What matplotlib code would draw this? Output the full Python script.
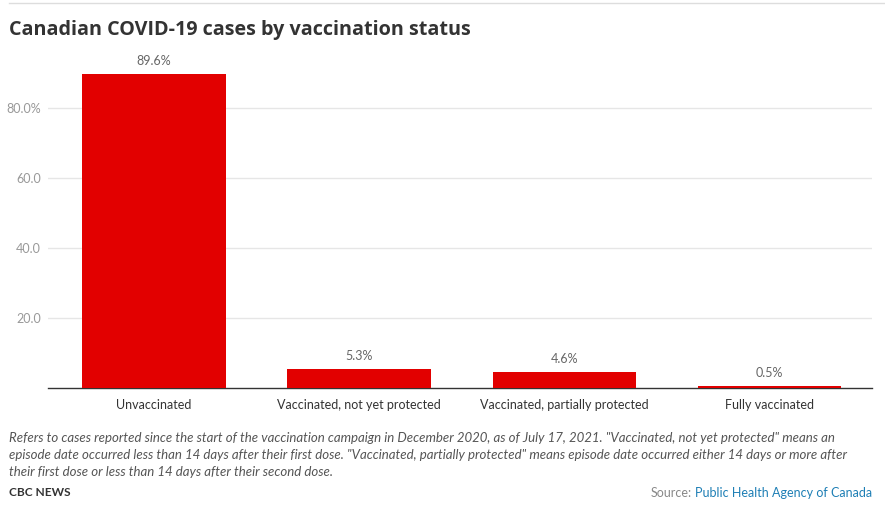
import matplotlib.pyplot as plt

categories = ["Unvaccinated", "Vaccinated, not yet protected",
              "Vaccinated, partially protected", "Fully vaccinated"]
shares = [89.6, 5.3, 4.6, 0.5]
yticks = [20, 40, 60, 80]
ytick_labels = ["20.0", "40.0", "60.0", "80.0%"]

title = "Canadian COVID-19 cases by vaccination status"
note = ("Refers to cases reported since the start of the vaccination campaign in December 2020, as of July 17, 2021. "
        "\"Vaccinated, not yet protected\" means an\nepisode date occurred less than 14 days after their first dose. "
        "\"Vaccinated, partially protected\" means episode date occurred either 14 days or more after\n"
        "their first dose or less than 14 days after their second dose.")

plt.rcParams['font.family'] = ['Lato', 'DejaVu Sans']

W, H = 885, 518
fig = plt.figure(figsize=(W / 100, H / 100), dpi=100)

# axes placed in pixel terms of the reference
left, right, top, bottom = 48, 872, 52, 388
ax = fig.add_axes([left / W, 1 - bottom / H, (right - left) / W, (bottom - top) / H])

x = range(len(categories))
ax.bar(x, shares, width=0.70, color='#e20000', zorder=3)
for xi, v in zip(x, shares):
    ax.text(xi, v + 2.0, f"{v}%", ha='center', va='bottom', fontsize=9, color='#666666')

ax.set_xlim(-0.517, 3.5)
ax.set_ylim(0, 96)
ax.set_yticks(yticks)
ax.set_yticklabels(ytick_labels)
ax.set_xticks(list(x))
ax.set_xticklabels(categories)
ax.tick_params(axis='y', length=0, pad=5, labelsize=9, labelcolor='#999999')
ax.tick_params(axis='x', length=0, pad=8, labelsize=9, labelcolor='#333333')
ax.grid(axis='y', color='#e6e6e6', linewidth=1, zorder=0)
for s in ['top', 'right', 'left']:
    ax.spines[s].set_visible(False)
ax.spines['bottom'].set_color('#333333')
ax.spines['bottom'].set_linewidth(1)

# header and footer
fig.add_artist(plt.Line2D([9 / W, 1], [1 - 3 / H, 1 - 3 / H], color='#dddddd', linewidth=1))
fig.text(9 / W, 1 - 30 / H, title, fontsize=14.2, fontweight='bold', color='#333333',
         va='center', ha='left', family=['Open Sans', 'DejaVu Sans'])
fig.text(9 / W, 1 - 432 / H, note, fontsize=9.5, style='italic', color='#555555',
         va='top', ha='left', linespacing=1.48)
fig.text(9 / W, 1 - 493 / H, "CBC NEWS", fontsize=8.6, fontweight='bold', color='#333333',
         va='center', ha='left')
src = fig.text(872 / W, 1 - 493 / H, "Public Health Agency of Canada", fontsize=9, color='#1e7fb5',
               va='center', ha='right')
fig.canvas.draw()
bb = src.get_window_extent()
fig.text((bb.x0 - 3) / W, 1 - 493 / H, "Source:", fontsize=9, color='#888888',
         va='center', ha='right')

fig.savefig('out.png', dpi=100)
